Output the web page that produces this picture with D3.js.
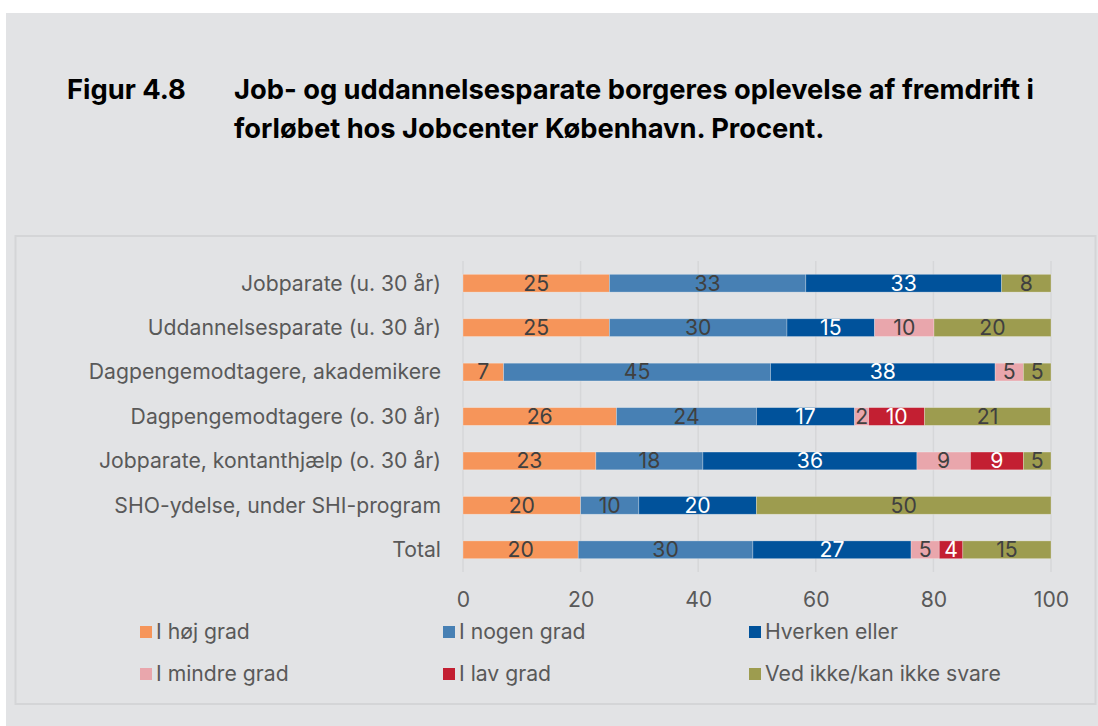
<!DOCTYPE html>
<html>
<head>
<meta charset="utf-8">
<script src="https://cdn.jsdelivr.net/npm/d3@7"></script>
<style>
  html, body { margin: 0; padding: 0; background: #fff; }
  svg { display: block; font-family: Inter, "Noto Sans", sans-serif; }
</style>
</head>
<body>
<svg id="chart" width="1098" height="726"></svg>
<script>
// data (percent)
var categories = [
  "Jobparate (u. 30 år)",
  "Uddannelsesparate (u. 30 år)",
  "Dagpengemodtagere, akademikere",
  "Dagpengemodtagere (o. 30 år)",
  "Jobparate, kontanthjælp (o. 30 år)",
  "SHO-ydelse, under SHI-program",
  "Total"
];
var seriesNames = ["I høj grad", "I nogen grad", "Hverken eller", "I mindre grad", "I lav grad", "Ved ikke/kan ikke svare"];
var hojGrad    = [24.9, 24.9, 6.9, 26.1, 22.6, 20.0, 19.6];
var nogenGrad  = [33.4, 30.2, 45.4, 23.8, 18.2, 9.9, 29.7];
var hverken    = [33.3, 14.9, 38.2, 16.7, 36.4, 20.0, 26.9];
var mindreGrad = [0, 10.1, 4.8, 2.4, 9.1, 0, 4.8];
var lavGrad    = [0, 0, 0, 9.5, 9.0, 0, 4.0];
var vedIkke    = [8.4, 19.9, 4.7, 21.4, 4.7, 50.1, 15.0];
var xTicks = [0, 20, 40, 60, 80, 100];

var colors = ["#f6955a", "#4780b4", "#00529b", "#e9a6ac", "#c31f32", "#9d9c4f"];
var labelColors = ["#404040", "#404040", "#ffffff", "#404040", "#ffffff", "#404040"];

var allSeries = [hojGrad, nogenGrad, hverken, mindreGrad, lavGrad, vedIkke];
var rows = categories.map(function(c, i) {
  var r = {cat: c};
  seriesNames.forEach(function(s, j) { r[s] = allSeries[j][i]; });
  return r;
});

var svg = d3.select("#chart");
var fs = "21.2px";

// backgrounds
svg.append("rect").attr("x", 6).attr("y", 13).attr("width", 1092).attr("height", 713).attr("fill", "#e2e3e5");
svg.append("rect").attr("x", 15.5).attr("y", 236).attr("width", 1080).attr("height", 468)
  .attr("fill", "#e2e3e5").attr("stroke", "#d4d5d7").attr("stroke-width", 2);

// title
var title = svg.append("g").attr("fill", "#000").style("font-weight", 700).style("font-size", "27.3px");
title.append("text").attr("x", 67).attr("y", 99).text("Figur 4.8");
title.append("text").attr("x", 234).attr("y", 99).text("Job- og uddannelsesparate borgeres oplevelse af fremdrift i");
title.append("text").attr("x", 234).attr("y", 138).text("forløbet hos Jobcenter København. Procent.");

var x = d3.scaleLinear().domain([0, 100]).range([463, 1051]);
var y = d3.scaleBand().domain(categories).range([261, 572]).paddingInner(0.6).paddingOuter(0.3);

// gridlines
svg.append("g").selectAll("line").data(xTicks).enter().append("line")
  .attr("x1", function(d) { return x(d); }).attr("x2", function(d) { return x(d); })
  .attr("y1", 261).attr("y2", 572)
  .attr("stroke", "#d6d7d9").attr("stroke-width", 1.5);

// x axis labels
var xAxis = svg.append("g").attr("transform", "translate(0,592)")
  .call(d3.axisBottom(x).tickValues(xTicks).tickSize(0).tickPadding(0));
xAxis.attr("font-family", null).attr("font-size", null);
xAxis.select(".domain").remove();
xAxis.selectAll("text").attr("fill", "#595959").style("font-size", fs);

// category labels
var yAxis = svg.append("g").attr("transform", "translate(441,0)")
  .call(d3.axisLeft(y).tickSize(0).tickPadding(0));
yAxis.attr("font-family", null).attr("font-size", null);
yAxis.select(".domain").remove();
yAxis.selectAll("text").attr("fill", "#595959").attr("dy", "0.35em").style("font-size", fs);

// stacked bars
var stack = d3.stack().keys(seriesNames)(rows);
var layers = svg.append("g").selectAll("g").data(stack).enter().append("g")
  .attr("fill", function(d, i) { return colors[i]; });

layers.selectAll("rect").data(function(d) { return d; }).enter().append("rect")
  .attr("x", function(d) { return x(d[0]); })
  .attr("y", function(d) { return y(d.data.cat); })
  .attr("width", function(d) { return x(d[1]) - x(d[0]); })
  .attr("height", y.bandwidth())
  .attr("stroke", "rgba(255,255,255,0.35)").attr("stroke-width", 0.75);

layers.each(function(layer, i) {
  d3.select(this).selectAll("text").data(layer.filter(function(d) { return d[1] - d[0] > 0; }))
    .enter().append("text")
    .attr("x", function(d) { return (x(d[0]) + x(d[1])) / 2; })
    .attr("y", function(d) { return y(d.data.cat) + y.bandwidth() / 2; })
    .attr("dy", "0.35em")
    .attr("text-anchor", "middle")
    .attr("fill", labelColors[i])
    .style("font-size", fs)
    .text(function(d) { return Math.round(d[1] - d[0]); });
});

// legend
var legendPos = [[140, 632], [443, 632], [749, 632], [140, 674], [443, 674], [749, 674]];
var legend = svg.append("g").selectAll("g").data(seriesNames).enter().append("g")
  .attr("transform", function(d, i) { return "translate(" + legendPos[i][0] + "," + legendPos[i][1] + ")"; });
legend.append("rect").attr("x", 0).attr("y", -6).attr("width", 12).attr("height", 12)
  .attr("fill", function(d, i) { return colors[i]; });
legend.append("text").attr("x", 16).attr("dy", "0.35em")
  .attr("fill", "#595959").style("font-size", fs)
  .text(function(d) { return d; });
</script>
</body>
</html>
